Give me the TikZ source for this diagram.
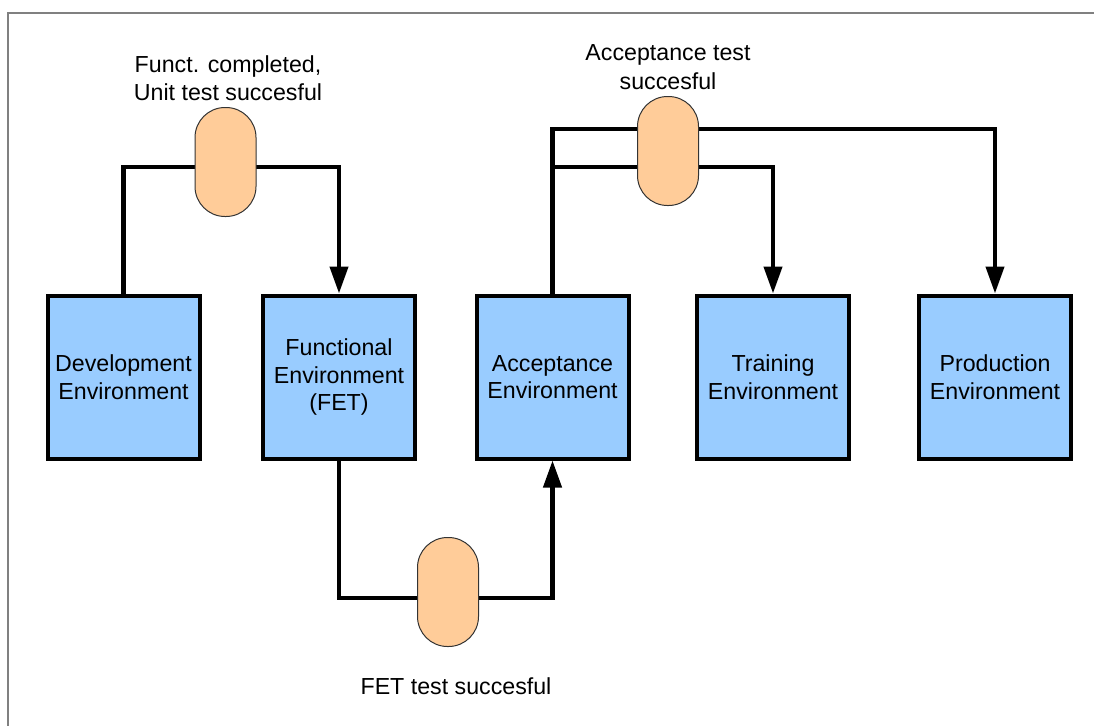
\documentclass[tikz,border=0pt]{standalone}
\usepackage{fontspec}
\setmainfont{Liberation Sans}
\usetikzlibrary{arrows.meta,backgrounds}
\definecolor{envblue}{HTML}{99CCFF}
\definecolor{gatepeach}{HTML}{FFCC99}
\definecolor{framegray}{HTML}{808080}
\definecolor{gateedge}{HTML}{333333}
\begin{document}
\begin{tikzpicture}[x=1pt,y=-1pt,
  envbox/.style={draw=black, fill=envblue, line width=4pt, minimum width=152pt,
    minimum height=163pt, inner sep=0pt, align=center, font=\fontsize{23.2}{27.5}\selectfont},
  gate/.style={draw=gateedge, fill=gatepeach, line width=1pt, minimum width=61pt,
    minimum height=109pt, rounded corners=30pt, inner sep=0pt},
  caption/.style={align=center, font=\fontsize{23.2}{28.5}\selectfont, inner sep=0pt},
  flowarrow/.style={line width=4.2pt, -{Triangle[length=27pt,width=18pt]}}]
\useasboundingbox (0,0) rectangle (1094,725);

% environments
\node[envbox] (dev)   at (123.5,377) {Development\\Environment};
\node[envbox] (func)  at (339,377)   {Functional\\Environment\\(FET)};
\node[envbox] (acc)   at (552.5,377) {Acceptance\\Environment};
\node[envbox] (train) at (773,377)   {Training\\Environment};
\node[envbox] (prod)  at (995,377)   {Production\\Environment};

% promotion gates
\node[gate] (g1) at (225.5,162) {};
\node[gate] (g2) at (668,151)   {};
\node[gate] (g3) at (448,592)   {};

% gate captions
\node[caption] (t1) at (228,78)  {Funct. completed,\\Unit test succesful};
\node[caption] (t2) at (668,67)  {Acceptance test\\succesful};
\node[caption] (t3) at (456,686) {FET test succesful};

% routing points of the connectors
\coordinate (r1)  at (225.5,167);
\coordinate (r2a) at (668,129);
\coordinate (r2b) at (668,167);
\coordinate (r3)  at (448,598);

\begin{scope}[on background layer]
  \draw[framegray, line width=1.5pt] (8,13) rectangle (1120,760);
  \draw[flowarrow] (dev.north) |- (r1) -| (func.north);
  \draw[flowarrow] (acc.north) |- (r2a) -| (prod.north);
  \draw[flowarrow] (acc.north |- r2b) -| (train.north);
  \draw[flowarrow] (func.south) |- (r3) -| (acc.south);
\end{scope}
\end{tikzpicture}
\end{document}
